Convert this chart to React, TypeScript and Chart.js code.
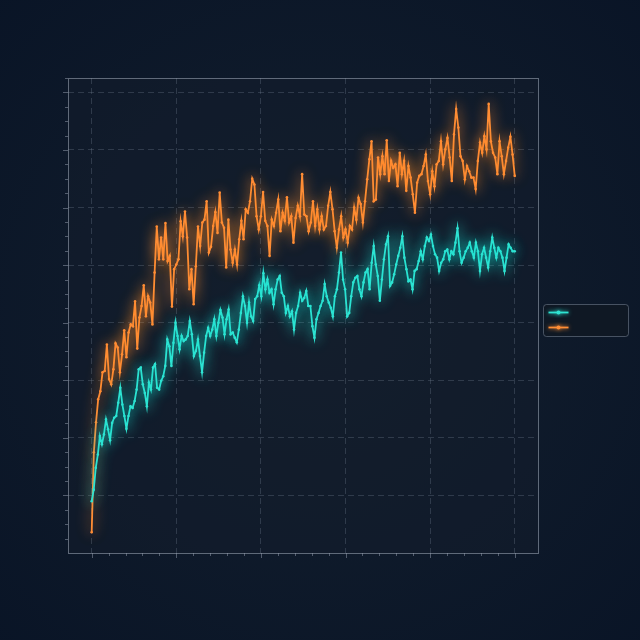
import React, { useEffect, useRef } from 'react';
import { Chart, ChartConfiguration, Plugin, registerables } from 'chart.js';

Chart.register(...registerables);

// x runs 0..100, major gridlines every 20
const xTicks = [0, 20, 40, 60, 80, 100];
const yTicks = [1, 2, 3, 4, 5, 6, 7, 8];

// upper (orange) series
const orangeValues = [
  0.36, 1.75, 2.27, 2.67, 2.81, 3.14, 3.16, 3.62, 3.02, 2.93, 3.19, 3.64, 3.57, 3.14, 3.45, 3.87, 3.40, 3.83, 3.97, 3.94,
  4.37, 3.55, 4.09, 4.29, 4.65, 4.11, 4.46, 4.35, 3.97, 4.87, 5.67, 5.10, 5.48, 5.10, 5.73, 5.07, 5.16, 4.28, 4.93, 5.01,
  5.10, 5.76, 5.50, 5.93, 5.48, 4.58, 4.93, 4.32, 4.98, 5.67, 5.33, 5.74, 5.79, 6.11, 5.22, 5.32, 5.68, 5.92, 5.56, 6.26,
  5.74, 5.65, 4.96, 5.79, 5.27, 5.04, 5.27, 5.01, 5.45, 5.77, 5.45, 5.97, 5.91, 6.11, 6.50, 6.40, 5.85, 5.62, 5.85, 6.27,
  5.77, 5.68, 5.16, 5.79, 5.68, 5.91, 6.14, 5.59, 5.91, 5.77, 6.18, 5.74, 5.85, 5.39, 5.82, 6.03, 5.85, 6.58, 5.88, 5.85,
  5.59, 5.74, 6.11, 5.68, 5.97, 5.62, 5.85, 5.62, 5.68, 6.03, 6.27, 5.97, 5.59, 5.30, 5.62, 5.85, 5.48, 5.62, 5.39, 5.68,
  5.62, 6.00, 5.79, 6.17, 6.06, 5.74, 6.11, 6.49, 6.84, 7.15, 6.11, 6.14, 6.87, 6.58, 6.89, 6.58, 7.17, 6.46, 6.81, 6.69,
  6.75, 6.37, 6.95, 6.58, 6.81, 6.29, 6.72, 6.52, 6.23, 5.91, 6.43, 6.55, 6.58, 6.72, 6.92, 6.46, 6.23, 6.63, 6.37, 6.75,
  6.81, 7.15, 6.75, 7.01, 7.21, 6.87, 6.46, 7.27, 7.71, 7.39, 6.89, 6.81, 6.49, 6.72, 6.63, 6.52, 6.52, 6.32, 6.81, 7.13,
  6.95, 7.24, 7.01, 7.80, 7.15, 6.95, 6.87, 6.58, 7.15, 6.89, 6.58, 6.81, 7.04, 7.23, 6.92, 6.55,
];

// lower (cyan) series
const cyanValues = [
  0.90, 1.10, 1.48, 1.71, 2.03, 1.89, 2.06, 2.32, 2.15, 1.96, 2.26, 2.35, 2.38, 2.61, 2.87, 2.58, 2.38, 2.16, 2.38, 2.55,
  2.52, 2.64, 2.84, 3.19, 3.22, 2.93, 2.78, 2.55, 2.96, 2.84, 3.22, 3.28, 2.87, 2.84, 2.99, 3.07, 3.25, 3.71, 3.59, 3.25,
  3.65, 4.00, 3.77, 3.54, 3.77, 3.68, 3.71, 3.77, 4.03, 3.80, 3.42, 3.51, 3.71, 3.42, 3.14, 3.48, 3.77, 3.91, 3.77, 3.88,
  4.06, 3.77, 4.00, 4.22, 4.09, 3.80, 4.06, 4.23, 3.80, 3.83, 3.74, 3.66, 3.88, 4.17, 4.46, 4.29, 4.00, 4.35, 4.11, 4.03,
  4.41, 4.46, 4.65, 4.46, 4.86, 4.58, 4.75, 4.52, 4.58, 4.32, 4.58, 4.75, 4.81, 4.52, 4.46, 4.17, 4.29, 4.11, 4.20, 3.88,
  4.17, 4.29, 4.52, 4.38, 4.43, 4.55, 4.29, 4.29, 3.94, 3.74, 4.06, 4.17, 4.29, 4.38, 4.67, 4.46, 4.35, 4.26, 4.11, 4.46,
  4.58, 4.87, 5.22, 4.75, 4.58, 4.11, 4.17, 4.46, 4.70, 4.78, 4.81, 4.58, 4.46, 4.70, 4.87, 4.93, 4.58, 5.04, 5.33, 5.01,
  4.81, 4.38, 4.75, 5.10, 5.36, 5.50, 4.64, 4.70, 4.84, 5.01, 5.16, 5.30, 5.50, 5.13, 4.93, 4.72, 4.75, 4.58, 4.90, 4.93,
  5.07, 5.24, 5.10, 5.33, 5.48, 5.42, 5.53, 5.33, 5.19, 5.13, 4.90, 5.04, 5.10, 5.24, 5.27, 5.10, 5.24, 5.19, 5.39, 5.64,
  5.24, 5.04, 5.13, 5.24, 5.30, 5.39, 5.24, 5.13, 5.39, 5.24, 4.90, 5.19, 5.30, 5.13, 4.96, 5.24, 5.48, 5.30, 5.13, 5.30,
  5.24, 5.13, 4.90, 5.13, 5.36, 5.30, 5.24, 5.24,
];

const CYAN = '#2fe3d2';
const ORANGE = '#ff8d35';

// evenly spaced samples across 0..100
const toPoints = (values: number[]) =>
  values.map((y, i) => ({ x: (i * 100) / (values.length - 1), y }));

// page + plot background
const backgroundPlugin: Plugin = {
  id: 'background',
  beforeDraw(chart) {
    const { ctx, width, height, chartArea } = chart;
    ctx.save();
    const g = ctx.createRadialGradient(width / 2, height / 2, 20, width / 2, height / 2, width * 0.75);
    g.addColorStop(0, '#131f2e');
    g.addColorStop(1, '#091426');
    ctx.fillStyle = g;
    ctx.fillRect(0, 0, width, height);
    ctx.fillStyle = 'rgba(20, 30, 44, 0.55)';
    ctx.fillRect(chartArea.left, chartArea.top, chartArea.right - chartArea.left, chartArea.bottom - chartArea.top);
    ctx.restore();
  },
};

// soft neon glow on each line
const glowPlugin: Plugin = {
  id: 'glow',
  beforeDatasetDraw(chart, args) {
    const ds = chart.data.datasets[args.index] as any;
    chart.ctx.save();
    chart.ctx.shadowColor = ds.borderColor;
    chart.ctx.shadowBlur = 14;
  },
  afterDatasetDraw(chart) {
    chart.ctx.restore();
  },
};

// frame, tick marks and the small legend box on the right
const framePlugin: Plugin = {
  id: 'frame',
  afterDraw(chart) {
    const { ctx, chartArea } = chart;
    const xs = chart.scales.x;
    const ys = chart.scales.y;
    ctx.save();
    ctx.lineWidth = 1;

    // tick marks outside the frame
    ctx.strokeStyle = 'rgba(140, 150, 165, 0.55)';
    ctx.beginPath();
    for (let v = 0; v <= 100; v += 4) {
      const px = Math.round(xs.getPixelForValue(v)) + 0.5;
      const len = v % 20 === 0 ? 5 : 3;
      ctx.moveTo(px, chartArea.bottom);
      ctx.lineTo(px, chartArea.bottom + len);
    }
    for (let v = 0.25; v <= 8.25 + 1e-6; v += 0.25) {
      const py = Math.round(ys.getPixelForValue(v)) + 0.5;
      const len = Math.abs(v - Math.round(v)) < 1e-6 ? 5 : 3;
      ctx.moveTo(chartArea.left - len, py);
      ctx.lineTo(chartArea.left, py);
    }
    ctx.stroke();

    // plot frame
    ctx.strokeStyle = 'rgba(150, 160, 175, 0.6)';
    ctx.strokeRect(
      Math.round(chartArea.left) + 0.5,
      Math.round(chartArea.top) + 0.5,
      Math.round(chartArea.right - chartArea.left),
      Math.round(chartArea.bottom - chartArea.top)
    );

    // legend
    const lx = Math.round(chartArea.right) + 5.5;
    const ly = Math.round((chartArea.top + chartArea.bottom) / 2) - 11.5;
    const lw = 85;
    const lh = 32;
    ctx.beginPath();
    ctx.roundRect(lx, ly, lw, lh, 3);
    ctx.fillStyle = 'rgba(16, 24, 35, 0.9)';
    ctx.fill();
    ctx.strokeStyle = 'rgba(110, 122, 138, 0.6)';
    ctx.stroke();

    chart.data.datasets.forEach((ds: any, i) => {
      const y = ly + 8 + i * 15;
      ctx.strokeStyle = ds.borderColor;
      ctx.fillStyle = ds.borderColor;
      ctx.lineWidth = 1.8;
      ctx.shadowColor = ds.borderColor;
      ctx.shadowBlur = 4;
      ctx.beginPath();
      ctx.moveTo(lx + 5, y);
      ctx.lineTo(lx + 25, y);
      ctx.stroke();
      ctx.beginPath();
      ctx.arc(lx + 15, y, 2, 0, Math.PI * 2);
      ctx.fill();
    });
    ctx.restore();
  },
};

const App: React.FC = () => {
  const chartRef = useRef<HTMLCanvasElement>(null);
  const chartInstance = useRef<Chart | null>(null);

  useEffect(() => {
    document.body.style.margin = '0';
    document.body.style.background = '#0b1526';
    if (!chartRef.current) return;
    const ctx = chartRef.current.getContext('2d');
    if (!ctx) return;

    const lineStyle = (color: string) => ({
      borderColor: color,
      backgroundColor: color,
      borderWidth: 1.8,
      pointRadius: 1.3,
      pointHoverRadius: 2,
      pointBorderWidth: 0,
      tension: 0,
      fill: false,
    });

    const config: ChartConfiguration = {
      type: 'line',
      data: {
        datasets: [
          { label: '', data: toPoints(cyanValues), ...lineStyle(CYAN) },
          { label: '', data: toPoints(orangeValues), ...lineStyle(ORANGE) },
        ],
      },
      options: {
        responsive: true,
        maintainAspectRatio: false,
        animation: false,
        layout: { padding: { left: 68, top: 78, right: 102, bottom: 87 } },
        plugins: {
          legend: { display: false },
          tooltip: { enabled: false },
        },
        scales: {
          x: {
            type: 'linear',
            min: -5.6,
            max: 105.5,
            afterBuildTicks: (scale) => {
              scale.ticks = xTicks.map((value) => ({ value }));
            },
            ticks: { display: false },
            grid: { color: 'rgba(120, 132, 148, 0.3)', drawTicks: false, lineWidth: 1 },
            border: { display: false, dash: [6, 4] },
          },
          y: {
            type: 'linear',
            min: 0,
            max: 8.25,
            afterBuildTicks: (scale) => {
              scale.ticks = yTicks.map((value) => ({ value }));
            },
            ticks: { display: false },
            grid: { color: 'rgba(120, 132, 148, 0.3)', drawTicks: false, lineWidth: 1 },
            border: { display: false, dash: [6, 4] },
          },
        },
      },
      plugins: [backgroundPlugin, glowPlugin, framePlugin],
    };

    chartInstance.current = new Chart(ctx, config);

    return () => {
      if (chartInstance.current) {
        chartInstance.current.destroy();
        chartInstance.current = null;
      }
    };
  }, []);

  return (
    <div style={{ position: 'absolute', left: 0, top: 0, width: 640, height: 640 }}>
      <canvas ref={chartRef} />
    </div>
  );
};

export default App;
